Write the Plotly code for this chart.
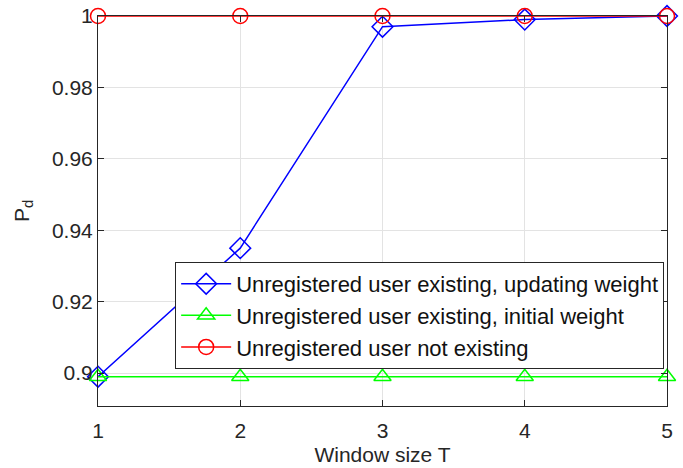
import plotly.graph_objects as go

window_T = [1, 2, 3, 4, 5]
pd_updating = [0.899, 0.935, 0.997, 0.999, 1.0]
pd_initial = [0.899, 0.899, 0.899, 0.899, 0.899]
pd_not_existing = [1.0, 1.0, 1.0, 1.0, 1.0]
names = ["Unregistered user existing, updating weight",
         "Unregistered user existing, initial weight",
         "Unregistered user not existing"]
ytick_vals = [0.9, 0.92, 0.94, 0.96, 0.98, 1.0]
ytick_text = ["0.9", "0.92", "0.94", "0.96", "0.98", "1"]

font = "Liberation Sans, Arial, Helvetica, sans-serif"
fig = go.Figure()
fig.add_trace(go.Scatter(x=window_T, y=pd_updating, name=names[0], mode="lines+markers",
                         line=dict(color="#0000ff", width=1.5),
                         marker=dict(symbol="diamond-open", size=16, color="#0000ff", line=dict(width=1.5)),
                         cliponaxis=False))
fig.add_trace(go.Scatter(x=window_T, y=pd_initial, name=names[1], mode="lines+markers",
                         line=dict(color="#00ff00", width=1.5),
                         marker=dict(symbol="triangle-up-open", size=15, color="#00ff00", line=dict(width=1.5)),
                         cliponaxis=False))
fig.add_trace(go.Scatter(x=window_T, y=pd_not_existing, name=names[2], mode="lines+markers",
                         line=dict(color="#ff0000", width=1.5),
                         marker=dict(symbol="circle-open", size=15, color="#ff0000", line=dict(width=1.5)),
                         cliponaxis=False))

axis_common = dict(showline=True, linecolor="#262626", linewidth=1, mirror="ticks",
                   ticks="inside", ticklen=6, tickcolor="#262626", automargin=False,
                   showgrid=True, gridcolor="#e3e3e3", gridwidth=1, zeroline=False,
                   tickfont=dict(family=font, size=21, color="#262626"))
fig.update_xaxes(range=[1, 5], tickvals=window_T, ticklabelstandoff=6,
                 title=dict(text="Window size T",
                 font=dict(family=font, size=21, color="#262626"), standoff=6), **axis_common)
fig.update_yaxes(range=[0.8908, 1.0], tickvals=ytick_vals, ticktext=ytick_text,
                 title=dict(text="P<sub>d</sub>", font=dict(family=font, size=21, color="#262626"), standoff=16),
                 **axis_common)
fig.update_layout(width=683, height=468, margin=dict(l=98, r=16, t=16, b=62),
                  plot_bgcolor="white", paper_bgcolor="white",
                  legend=dict(x=0.995, y=0.095, xanchor="right", yanchor="bottom",
                              bgcolor="white", bordercolor="#262626", borderwidth=1,
                              font=dict(family=font, size=22, color="#111111"),
                              tracegroupgap=0, itemwidth=50),
                  showlegend=True)
fig.write_html("out.html", config={"displayModeBar": False},
               post_script="document.body.style.margin='0';document.body.style.padding='0';")
